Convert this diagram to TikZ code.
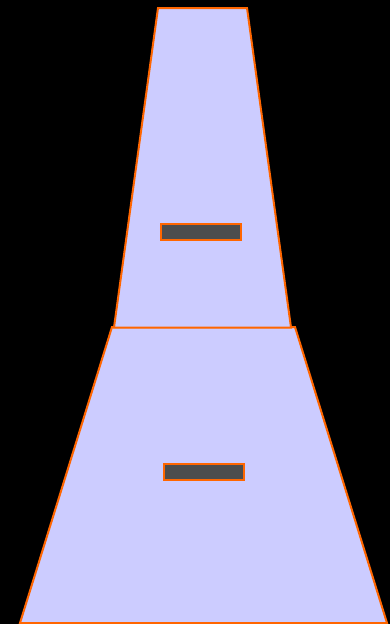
\documentclass[tikz,border=0pt]{standalone}
\definecolor{bodyfill}{RGB}{204,204,255}
\definecolor{edge}{RGB}{255,102,0}
\definecolor{slot}{RGB}{77,77,77}
\tikzset{
  part/.style={fill=bodyfill, draw=edge, line width=2pt, line join=miter},
  slotbox/.style={fill=slot, draw=edge, line width=2pt}
}
\begin{document}
\begin{tikzpicture}[x=1pt,y=-1pt]
\fill[black] (0,0) rectangle (390,624);
\useasboundingbox (0,0) rectangle (390,624);
% lower trapezoid
\draw[part] (112,327) -- (295,327) -- (387,623) -- (20,623) -- cycle;
% upper trapezoid
\draw[part] (158,8) -- (247,8) -- (291,327.5) -- (114,327.5) -- cycle;
% slots
\draw[slotbox] (161,224) rectangle (241,240);
\draw[slotbox] (164,464) rectangle (244,480);
\end{tikzpicture}
\end{document}
